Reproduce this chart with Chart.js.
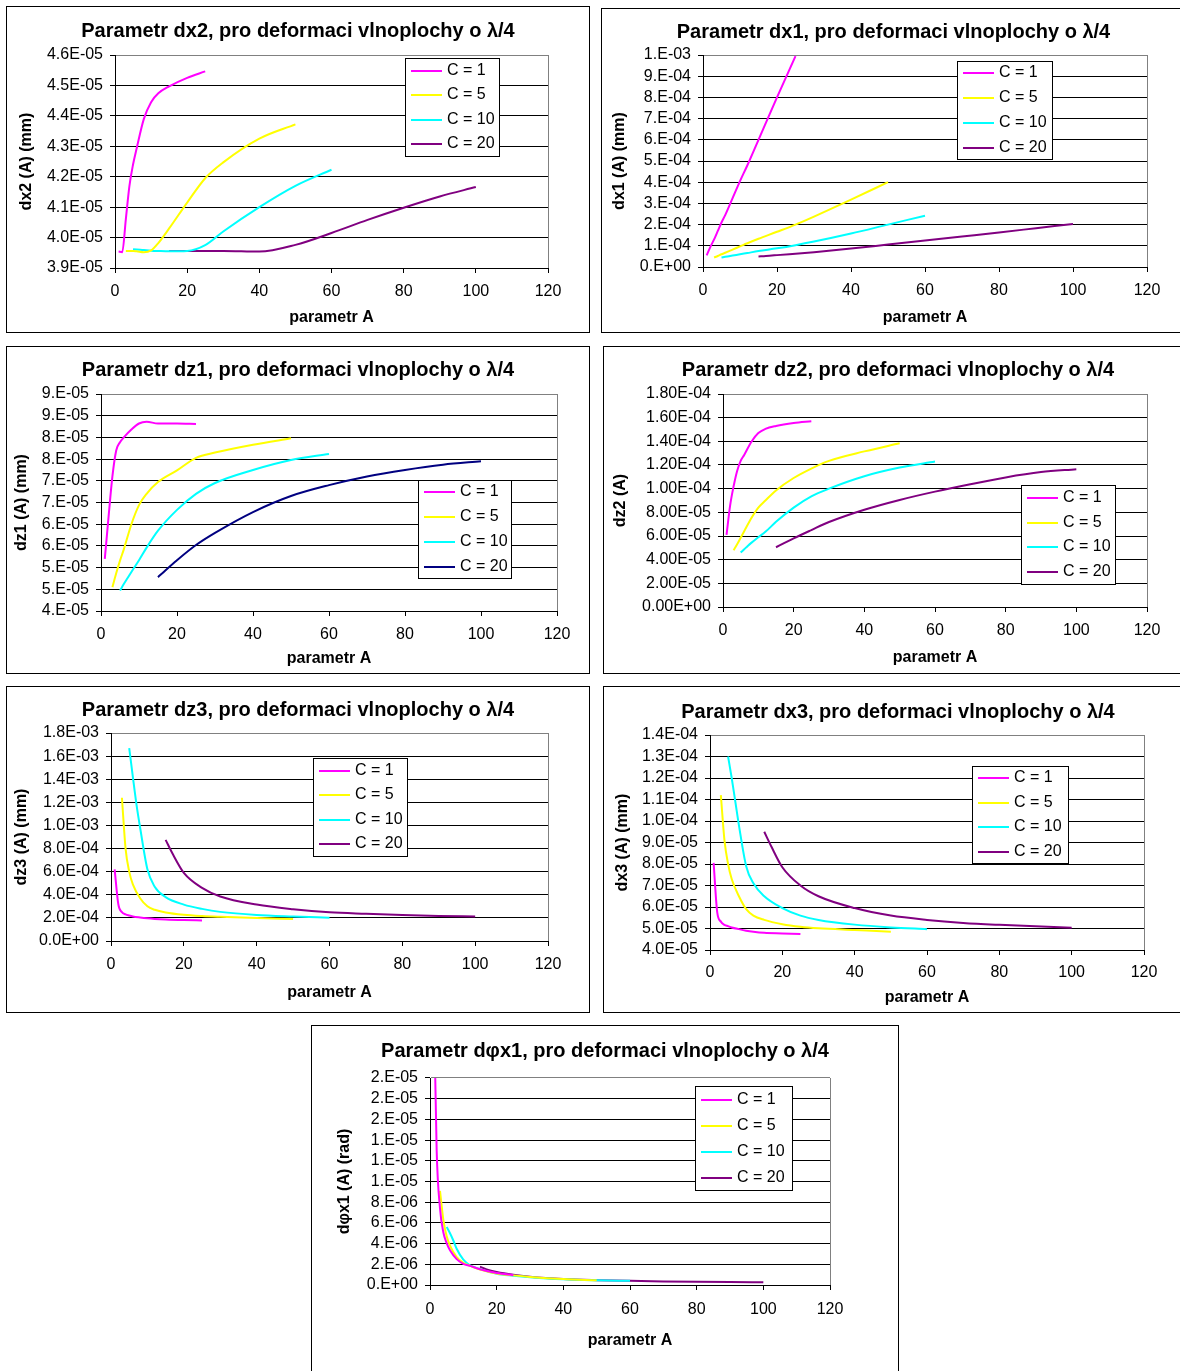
<!DOCTYPE html>
<html>
<head>
<meta charset="utf-8">
<script src="https://cdn.jsdelivr.net/npm/chart.js@4.4.1/dist/chart.umd.min.js"></script>
<style>
  body { margin: 0; background: #fff; width: 1180px; height: 1371px; overflow: hidden; position: relative; }
  .box { position: absolute; border: 1px solid #000; background: #fff; overflow: hidden; }
  .box canvas { display: block; }
</style>
</head>
<body>
<script>
// parametr A for each C series
const A_C1 = [1, 2, 3, 4, 5, 6, 8, 10, 12, 15, 20, 25];
const A_C5 = [3, 4, 5, 6, 8, 10, 12, 15, 20, 25, 30, 40, 50];
const A_C10 = [5, 6, 7, 8, 10, 12, 15, 20, 25, 30, 40, 50, 60];
const A_C20 = [15, 17, 20, 25, 30, 40, 50, 60, 70, 80, 90, 100];
const SERIES = ['C = 1', 'C = 5', 'C = 10', 'C = 20'];
const X_TICKS = [0, 20, 40, 60, 80, 100, 120];

// dx2
const dx2_C1 = [3.954e-5, 3.952e-5, 4.06e-5, 4.17e-5, 4.24e-5, 4.293e-5, 4.39e-5, 4.445e-5, 4.474e-5, 4.497e-5, 4.525e-5, 4.546e-5];
const dx2_C5 = [3.956e-5, 3.956e-5, 3.956e-5, 3.955e-5, 3.952e-5, 3.958e-5, 3.982e-5, 4.03e-5, 4.115e-5, 4.195e-5, 4.247e-5, 4.325e-5, 4.372e-5];
const dx2_C10 = [3.962e-5, 3.961e-5, 3.96e-5, 3.959e-5, 3.957e-5, 3.956e-5, 3.955e-5, 3.956e-5, 3.975e-5, 4.02e-5, 4.1e-5, 4.17e-5, 4.223e-5];
const dx2_C20 = [3.956e-5, 3.956e-5, 3.956e-5, 3.956e-5, 3.956e-5, 3.954e-5, 3.976e-5, 4.015e-5, 4.058e-5, 4.098e-5, 4.135e-5, 4.166e-5];
const dx2_ticks = ['3.9E-05', '4.0E-05', '4.1E-05', '4.2E-05', '4.3E-05', '4.4E-05', '4.5E-05', '4.6E-05'];

// dx1
const dx1_C1 = [5.5e-5, 9.5e-5, 1.3e-4, 1.7e-4, 2.1e-4, 2.45e-4, 3.25e-4, 4.05e-4, 4.8e-4, 6.0e-4, 8.0e-4, 9.95e-4];
const dx1_C5 = [4.5e-5, 5.2e-5, 6.0e-5, 6.7e-5, 8.2e-5, 9.7e-5, 1.12e-4, 1.33e-4, 1.66e-4, 2.0e-4, 2.38e-4, 3.18e-4, 4.0e-4];
const dx1_C10 = [4.5e-5, 4.8e-5, 5.1e-5, 5.4e-5, 6.0e-5, 6.6e-5, 7.5e-5, 8.8e-5, 1.03e-4, 1.2e-4, 1.58e-4, 2.0e-4, 2.42e-4];
const dx1_C20 = [5.0e-5, 5.2e-5, 5.6e-5, 6.3e-5, 7.0e-5, 8.7e-5, 1.06e-4, 1.25e-4, 1.44e-4, 1.63e-4, 1.83e-4, 2.03e-4];
const dx1_ticks = ['0.E+00', '1.E-04', '2.E-04', '3.E-04', '4.E-04', '5.E-04', '6.E-04', '7.E-04', '8.E-04', '9.E-04', '1.E-03'];

// dz1
const dz1_C1 = [5.2e-5, 6.18e-5, 7.1e-5, 7.7e-5, 7.89e-5, 8.0e-5, 8.18e-5, 8.32e-5, 8.36e-5, 8.32e-5, 8.32e-5, 8.31e-5];
const dz1_C5 = [4.55e-5, 4.87e-5, 5.16e-5, 5.42e-5, 6.0e-5, 6.44e-5, 6.7e-5, 6.97e-5, 7.24e-5, 7.53e-5, 7.65e-5, 7.83e-5, 7.98e-5];
const dz1_C10 = [4.47e-5, 4.62e-5, 4.76e-5, 4.9e-5, 5.17e-5, 5.46e-5, 5.85e-5, 6.33e-5, 6.7e-5, 6.95e-5, 7.25e-5, 7.48e-5, 7.62e-5];
const dz1_C20 = [4.78e-5, 4.94e-5, 5.17e-5, 5.52e-5, 5.8e-5, 6.28e-5, 6.65e-5, 6.9e-5, 7.1e-5, 7.25e-5, 7.37e-5, 7.45e-5];
const dz1_ticks = ['4.E-05', '5.E-05', '5.E-05', '6.E-05', '6.E-05', '7.E-05', '7.E-05', '8.E-05', '8.E-05', '9.E-05', '9.E-05'];

// dz2
const dz2_C1 = [6.1e-5, 8.55e-5, 1.02e-4, 1.15e-4, 1.235e-4, 1.285e-4, 1.395e-4, 1.47e-4, 1.505e-4, 1.53e-4, 1.555e-4, 1.57e-4];
const dz2_C5 = [4.8e-5, 5.3e-5, 5.85e-5, 6.4e-5, 7.5e-5, 8.4e-5, 9.0e-5, 9.85e-5, 1.09e-4, 1.17e-4, 1.235e-4, 1.315e-4, 1.384e-4];
const dz2_C10 = [4.6e-5, 4.88e-5, 5.16e-5, 5.42e-5, 5.9e-5, 6.35e-5, 7.2e-5, 8.4e-5, 9.35e-5, 1.0e-4, 1.105e-4, 1.178e-4, 1.23e-4];
const dz2_C20 = [5.05e-5, 5.35e-5, 5.8e-5, 6.5e-5, 7.18e-5, 8.22e-5, 9.05e-5, 9.75e-5, 1.037e-4, 1.095e-4, 1.14e-4, 1.165e-4];
const dz2_ticks = ['0.00E+00', '2.00E-05', '4.00E-05', '6.00E-05', '8.00E-05', '1.00E-04', '1.20E-04', '1.40E-04', '1.60E-04', '1.80E-04'];

// dz3
const dz3_C1 = [6.2e-4, 3.2e-4, 2.5e-4, 2.3e-4, 2.2e-4, 2.12e-4, 2.03e-4, 1.96e-4, 1.91e-4, 1.86e-4, 1.81e-4, 1.78e-4];
const dz3_C5 = [1.24e-3, 8.0e-4, 6.0e-4, 4.9e-4, 3.7e-4, 3.0e-4, 2.7e-4, 2.47e-4, 2.27e-4, 2.16e-4, 2.09e-4, 1.98e-4, 1.91e-4];
const dz3_C10 = [1.67e-3, 1.42e-3, 1.18e-3, 9.8e-4, 6.2e-4, 4.7e-4, 3.8e-4, 3.15e-4, 2.78e-4, 2.52e-4, 2.25e-4, 2.12e-4, 2.02e-4];
const dz3_C20 = [8.75e-4, 7.5e-4, 5.9e-4, 4.6e-4, 3.85e-4, 3.15e-4, 2.75e-4, 2.48e-4, 2.35e-4, 2.24e-4, 2.17e-4, 2.12e-4];
const dz3_ticks = ['0.0E+00', '2.0E-04', '4.0E-04', '6.0E-04', '8.0E-04', '1.0E-03', '1.2E-03', '1.4E-03', '1.6E-03', '1.8E-03'];

// dx3
const dx3_C1 = [8.05e-5, 5.75e-5, 5.32e-5, 5.17e-5, 5.11e-5, 5.05e-5, 4.97e-5, 4.9e-5, 4.85e-5, 4.8e-5, 4.77e-5, 4.74e-5];
const dx3_C5 = [1.12e-4, 9.1e-5, 8.0e-5, 7.3e-5, 6.5e-5, 5.9e-5, 5.6e-5, 5.4e-5, 5.2e-5, 5.08e-5, 5.01e-5, 4.93e-5, 4.85e-5];
const dx3_C10 = [1.3e-4, 1.2e-4, 1.09e-4, 9.8e-5, 7.9e-5, 7.1e-5, 6.5e-5, 5.95e-5, 5.6e-5, 5.4e-5, 5.18e-5, 5.05e-5, 4.97e-5];
const dx3_C20 = [9.5e-5, 8.8e-5, 7.85e-5, 7.0e-5, 6.5e-5, 5.95e-5, 5.6e-5, 5.4e-5, 5.26e-5, 5.17e-5, 5.1e-5, 5.04e-5];
const dx3_ticks = ['4.0E-05', '5.0E-05', '6.0E-05', '7.0E-05', '8.0E-05', '9.0E-05', '1.0E-04', '1.1E-04', '1.2E-04', '1.3E-04', '1.4E-04'];

// dphix1
const dphi_C1 = [3.0e-5, 1.3e-5, 7.4e-6, 5.1e-6, 4.05e-6, 3.35e-6, 2.5e-6, 2.05e-6, 1.85e-6, 1.52e-6, 1.15e-6, 9.5e-7];
const dphi_C5 = [9.1e-6, 6.3e-6, 4.7e-6, 3.8e-6, 2.7e-6, 2.15e-6, 1.85e-6, 1.5e-6, 1.12e-6, 9.3e-7, 7.8e-7, 5.7e-7, 4.5e-7];
const dphi_C10 = [5.6e-6, 5.0e-6, 4.3e-6, 3.5e-6, 2.45e-6, 1.9e-6, 1.55e-6, 1.08e-6, 9.0e-7, 7.6e-7, 5.6e-7, 4.6e-7, 4.0e-7];
const dphi_C20 = [1.77e-6, 1.5e-6, 1.25e-6, 9.8e-7, 8.0e-7, 5.8e-7, 4.7e-7, 4.0e-7, 3.5e-7, 3.1e-7, 2.8e-7, 2.6e-7];
const dphi_ticks = ['0.E+00', '2.E-06', '4.E-06', '6.E-06', '8.E-06', '1.E-05', '1.E-05', '1.E-05', '2.E-05', '2.E-05', '2.E-05'];

const A_ALL = [A_C1, A_C5, A_C10, A_C20];
const COLORS = ['#FF00FF', '#FFFF00', '#00FFFF', '#800080'];
const COLORS_NAVY = ['#FF00FF', '#FFFF00', '#00FFFF', '#000080'];
const GRAY = '#808080';
const FONT = '"Liberation Sans", Arial, sans-serif';

Chart.defaults.font.family = FONT;
Chart.defaults.color = '#000';

// legend drawn as a framed box inside the plot, like the spreadsheet charts
const boxLegend = {
  id: 'boxLegend',
  afterDraw(chart, args, opts) {
    const { ctx } = chart;
    const [x, y, w, h] = opts.rect;
    const n = chart.data.datasets.length;
    const y0 = y + (h - n * opts.rowH) / 2;
    ctx.save();
    ctx.fillStyle = '#fff';
    ctx.fillRect(x, y, w, h);
    ctx.strokeStyle = '#000';
    ctx.lineWidth = 1;
    ctx.strokeRect(x + 0.5, y + 0.5, w - 1, h - 1);
    ctx.font = '16px ' + FONT;
    ctx.textBaseline = 'middle';
    chart.data.datasets.forEach((ds, i) => {
      const cy = Math.round(y0 + opts.rowH * (i + 0.5));
      ctx.strokeStyle = ds.borderColor;
      ctx.lineWidth = 2;
      ctx.beginPath();
      ctx.moveTo(x + 6, cy);
      ctx.lineTo(x + 37, cy);
      ctx.stroke();
      ctx.fillStyle = '#000';
      ctx.fillText(ds.label, x + 42, cy);
    });
    ctx.restore();
  }
};

function makeChart(s) {
  const [bx, by, bw, bh] = s.box;
  const W = bw - 2, H = bh - 2, ox = bx + 1, oy = by + 1;
  const div = document.createElement('div');
  div.className = 'box';
  Object.assign(div.style, { left: bx + 'px', top: by + 'px', width: W + 'px', height: H + 'px' });
  const cv = document.createElement('canvas');
  cv.width = W; cv.height = H;
  cv.style.width = W + 'px'; cv.style.height = H + 'px';
  div.appendChild(cv);
  document.body.appendChild(div);

  const L = s.plot[0] - ox, T = s.plot[1] - oy, R = s.plot[2] - ox, B = s.plot[3] - oy;
  const tc = s.titleY - oy;
  const labels = s.ticks;
  const step = (s.max - s.min) / (labels.length - 1);
  const [lx, ly, lw, lh] = s.legend;

  const datasets = s.ys.map((ys, i) => ({
    label: SERIES[i],
    data: A_ALL[i].map((a, j) => ({ x: a, y: ys[j] })),
    borderColor: s.colors[i],
    backgroundColor: s.colors[i],
    borderWidth: 2,
    pointRadius: 0,
    fill: false,
    cubicInterpolationMode: 'monotone'
  }));

  new Chart(cv, {
    type: 'line',
    data: { datasets },
    plugins: [boxLegend],
    options: {
      responsive: false,
      animation: false,
      layout: { padding: 0 },
      plugins: {
        legend: { display: false },
        tooltip: { enabled: false },
        title: {
          display: true, text: s.title, color: '#000',
          font: { size: 20, weight: 'bold' },
          padding: { top: tc - 12, bottom: T - tc - 12 }
        },
        boxLegend: { rect: [lx - ox, ly - oy, lw, lh], rowH: s.rowH }
      },
      scales: {
        x: {
          type: 'linear', min: 0, max: 120,
          afterBuildTicks: sc => { sc.ticks = X_TICKS.map(v => ({ value: v })); },
          ticks: { font: { size: 16 }, color: '#000', maxRotation: 0, padding: s.xLabelY - s.plot[3] - 5 - 9.6 },
          grid: {
            color: c => (c.tick && c.tick.value === 120 ? GRAY : 'rgba(0,0,0,0)'),
            tickColor: '#000', tickLength: 5, lineWidth: 1
          },
          border: { display: true, color: '#000', width: 1 },
          title: {
            display: true, text: 'parametr A', color: '#000',
            font: { size: 16, weight: 'bold' },
            padding: { top: 0, bottom: H - (s.xTitleY - oy) - 9.6 }
          },
          afterFit: sc => { sc.height = H - B; }
        },
        y: {
          type: 'linear', min: s.min, max: s.max,
          afterBuildTicks: sc => { sc.ticks = labels.map((_, i) => ({ value: s.min + i * step })); },
          ticks: { callback: (v, i) => labels[i], font: { size: 16 }, color: '#000', padding: 7, autoSkip: false },
          grid: {
            color: c => (c.index === labels.length - 1 ? GRAY : '#000'),
            tickColor: '#000', tickLength: 5, lineWidth: 1
          },
          border: { display: true, color: '#000', width: 1 },
          title: {
            display: true, text: s.yTitle, color: '#000',
            font: { size: 16, weight: 'bold' },
            padding: { top: (s.yTitleX - ox) - 9.6, bottom: 0 }
          },
          afterFit: sc => { sc.width = L; }
        },
        yR: {
          type: 'linear', position: 'right', display: true,
          ticks: { display: false }, grid: { display: false }, border: { display: false },
          afterFit: sc => { sc.width = W - R; }
        }
      }
    }
  });
}

const LAMBDA = 'pro deformaci vlnoplochy o λ/4';

makeChart({
  box: [6, 6, 584, 327], plot: [115, 55, 548, 268], titleY: 31, xLabelY: 292, xTitleY: 318, yTitleX: 27,
  legend: [405, 58, 95, 99], rowH: 24.4,
  title: 'Parametr dx2, ' + LAMBDA, yTitle: 'dx2 (A) (mm)',
  ticks: dx2_ticks, min: 3.9e-5, max: 4.6e-5,
  ys: [dx2_C1, dx2_C5, dx2_C10, dx2_C20], colors: COLORS
});
makeChart({
  box: [601, 8, 585, 325], plot: [703, 55, 1147, 267], titleY: 32, xLabelY: 291, xTitleY: 318, yTitleX: 620,
  legend: [957, 61, 96, 99], rowH: 24.8,
  title: 'Parametr dx1, ' + LAMBDA, yTitle: 'dx1 (A) (mm)',
  ticks: dx1_ticks, min: 0, max: 1e-3,
  ys: [dx1_C1, dx1_C5, dx1_C10, dx1_C20], colors: COLORS
});
makeChart({
  box: [6, 346, 584, 328], plot: [101, 394, 557, 611], titleY: 370, xLabelY: 635, xTitleY: 659, yTitleX: 22,
  legend: [418, 480, 94, 99], rowH: 24.8,
  title: 'Parametr dz1, ' + LAMBDA, yTitle: 'dz1 (A) (mm)',
  ticks: dz1_ticks, min: 4e-5, max: 9e-5,
  ys: [dz1_C1, dz1_C5, dz1_C10, dz1_C20], colors: COLORS_NAVY
});
makeChart({
  box: [603, 346, 590, 328], plot: [723, 394, 1147, 607], titleY: 370, xLabelY: 631, xTitleY: 658, yTitleX: 621,
  legend: [1021, 485, 95, 100], rowH: 24.8,
  title: 'Parametr dz2, ' + LAMBDA, yTitle: 'dz2 (A)',
  ticks: dz2_ticks, min: 0, max: 1.8e-4,
  ys: [dz2_C1, dz2_C5, dz2_C10, dz2_C20], colors: COLORS
});
makeChart({
  box: [6, 686, 584, 327], plot: [111, 733, 548, 941], titleY: 710, xLabelY: 965, xTitleY: 993, yTitleX: 22,
  legend: [313, 758, 95, 99], rowH: 24.6,
  title: 'Parametr dz3, ' + LAMBDA, yTitle: 'dz3 (A) (mm)',
  ticks: dz3_ticks, min: 0, max: 1.8e-3,
  ys: [dz3_C1, dz3_C5, dz3_C10, dz3_C20], colors: COLORS
});
makeChart({
  box: [603, 686, 590, 327], plot: [710, 735, 1144, 950], titleY: 712, xLabelY: 973, xTitleY: 998, yTitleX: 623,
  legend: [972, 766, 97, 98], rowH: 24.6,
  title: 'Parametr dx3, ' + LAMBDA, yTitle: 'dx3 (A) (mm)',
  ticks: dx3_ticks, min: 4e-5, max: 1.4e-4,
  ys: [dx3_C1, dx3_C5, dx3_C10, dx3_C20], colors: COLORS
});
makeChart({
  box: [311, 1025, 588, 360], plot: [430, 1078, 830, 1285], titleY: 1051, xLabelY: 1310, xTitleY: 1341, yTitleX: 345,
  legend: [695, 1086, 98, 105], rowH: 26,
  title: 'Parametr dφx1, ' + LAMBDA, yTitle: 'dφx1 (A) (rad)',
  ticks: dphi_ticks, min: 0, max: 2e-5,
  ys: [dphi_C1, dphi_C5, dphi_C10, dphi_C20], colors: COLORS
});
</script>
</body>
</html>
